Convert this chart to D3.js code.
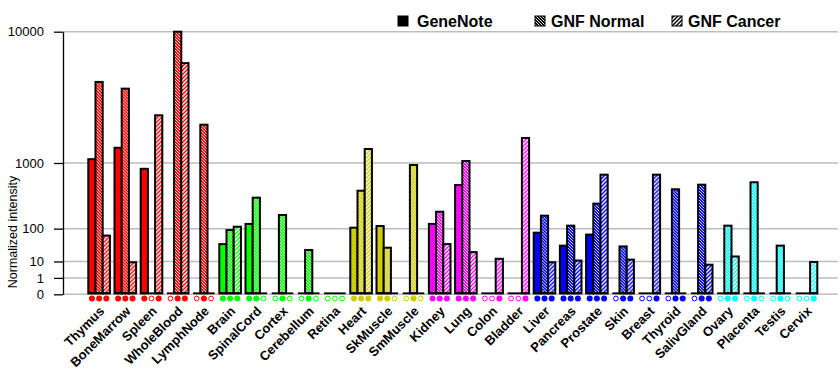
<!DOCTYPE html>
<html>
<meta charset="utf-8">
<style>
  body { margin: 0; background: #fff; }
  text { font-family: "Liberation Sans", Arial, sans-serif; }
</style>
<script src="https://d3js.org/d3.v7.min.js"></script>
<body>

<script>
var svgWidth = 840, svgHeight = 385;

// tissues along the x axis
var tissues = ["Thymus", "BoneMarrow", "Spleen", "WholeBlood", "LymphNode",
  "Brain", "SpinalCord", "Cortex", "Cerebellum", "Retina",
  "Heart", "SkMuscle", "SmMuscle",
  "Kidney", "Lung", "Colon", "Bladder",
  "Liver", "Pancreas", "Prostate", "Skin", "Breast", "Thyroid", "SalivGland",
  "Ovary", "Placenta", "Testis", "Cervix"];

// organ system of each tissue (picks the colour)
var system = [0,0,0,0,0, 1,1,1,1,1, 2,2,2, 3,3,3,3, 4,4,4,4,4,4,4, 5,5,5,5];

// null = no data (open marker)
var geneNote = [1100, 1440, 860, null, null, 41, 126, null, null, null,
  105, 114, null, 126, 544, null, null, 81, 37, 73, null, null, null, null,
  null, null, null, null];
var gnfNormal = [4940, 4440, null, 10000, 2340, 93, 361, 187, 27, null,
  455, 32, 950, 214, 1050, null, null, 182, 116, 292, 35, null, 476, 549,
  116, 590, 37, null];
var gnfCancer = [69, 9.2, 2800, 6550, null, 110, null, null, null, null,
  1400, null, null, 41, 23, 13, 1785, 9.2, 11, 734, 12, 734, 0, 7.1,
  16, null, null, 9.5];

var seriesNames = ["GeneNote", "GNF Normal", "GNF Cancer"];
var yTicks = [0, 1, 10, 100, 1000, 10000];

var palette = ["#ff0000", "#00ff00", "#cccc00", "#ff00ff", "#0000ff", "#00ffff"];

var svg = d3.select("body")
  .append("svg")
  .attr("width", svgWidth)
  .attr("height", svgHeight);

var defs = svg.append("defs");

// hatch patterns: "\" for normal, "/" for cancer
function addPatterns(name, color, bg) {
  var p1 = defs.append("pattern")
    .attr("id", "norm-" + name)
    .attr("patternUnits", "userSpaceOnUse")
    .attr("width", 3).attr("height", 3);
  p1.append("rect").attr("width", 3).attr("height", 3).attr("fill", color);
  p1.append("path")
    .attr("d", "M0,0L3,3M-1,2L1,4M2,-1L4,1")
    .attr("stroke", bg).attr("stroke-width", 0.9);

  var p2 = defs.append("pattern")
    .attr("id", "canc-" + name)
    .attr("patternUnits", "userSpaceOnUse")
    .attr("width", 4).attr("height", 4);
  p2.append("rect").attr("width", 4).attr("height", 4).attr("fill", color);
  p2.append("path")
    .attr("d", "M0,4L4,0M-1,1L1,-1M3,5L5,3")
    .attr("stroke", bg).attr("stroke-width", 1.4);
}
palette.forEach(function(c, i) { addPatterns("c" + i, c, "#fff"); });
addPatterns("k", "#000", "#fff");

var x = d3.scaleBand()
  .domain(tissues)
  .range([86, 86 + 28 * 26.2])
  .paddingInner(0.175)
  .paddingOuter(0.0875);

var y = d3.scalePow()
  .exponent(Math.log10(2))
  .domain([0, 10000])
  .range([294.3, 31.7]);

var bw = x.bandwidth() / 3;

// grid
svg.append("g").selectAll("line")
  .data(yTicks)
  .enter()
  .append("line")
  .attr("x1", 63).attr("x2", 838)
  .attr("y1", function(d) { return y(d); })
  .attr("y2", function(d) { return y(d); })
  .attr("stroke", "#bdbdbd")
  .attr("stroke-width", 1.5);

// y axis
var yAxis = svg.append("g")
  .attr("transform", "translate(63,0)")
  .call(d3.axisLeft(y).tickValues(yTicks).tickFormat(d3.format("d"))
    .tickSize(9).tickSizeOuter(0).tickPadding(10));
yAxis.selectAll("text").attr("font-size", 13).attr("font-family", "Liberation Sans, Arial, sans-serif").attr("fill", "#000");
yAxis.selectAll("line").attr("stroke", "#000").attr("stroke-width", 1.3);
yAxis.select(".domain").attr("stroke", "#000").attr("stroke-width", 1.3);

svg.append("text")
  .attr("transform", "translate(17,232) rotate(-90)")
  .attr("text-anchor", "middle")
  .attr("font-size", 12.5)
  .text("Normalized intensity");

// bars
var rows = tissues.map(function(t, i) {
  return { name: t, color: system[i], vals: [geneNote[i], gnfNormal[i], gnfCancer[i]] };
});

var group = svg.append("g").selectAll("g")
  .data(rows)
  .enter()
  .append("g")
  .attr("transform", function(d) { return "translate(" + x(d.name) + ",0)"; });

function fillFor(d, k) {
  if (k == 0) return palette[d.color];
  return "url(#" + (k == 1 ? "norm" : "canc") + "-c" + d.color + ")";
}

group.each(function(d) {
  var g = d3.select(this);
  d.vals.forEach(function(v, k) {
    if (v == null || v <= 0) return;
    g.append("rect")
      .attr("x", k * bw)
      .attr("y", y(v))
      .attr("width", bw)
      .attr("height", y(0) - 1 - y(v))
      .attr("fill", fillFor(d, k))
      .attr("stroke", "#000")
      .attr("stroke-width", 2);
  });
  // base line of the group
  g.append("line")
    .attr("x1", 0).attr("x2", x.bandwidth())
    .attr("y1", y(0) - 1).attr("y2", y(0) - 1)
    .attr("stroke", "#000").attr("stroke-width", 1.8);
  // availability markers
  d.vals.forEach(function(v, k) {
    g.append("circle")
      .attr("cx", k * bw + bw / 2)
      .attr("cy", 298.5)
      .attr("r", v == null ? 2.4 : 3)
      .attr("fill", v == null ? "#fff" : palette[d.color])
      .attr("stroke", palette[d.color])
      .attr("stroke-width", v == null ? 1 : 0);
  });
});

// x labels
svg.append("g").selectAll("text")
  .data(tissues)
  .enter()
  .append("text")
  .attr("transform", function(d) {
    return "translate(" + (x(d) + x.bandwidth() / 2 + 6) + ",312) rotate(-45)";
  })
  .attr("text-anchor", "end")
  .attr("font-size", 13)
  .attr("font-weight", "bold")
  .text(function(d) { return d; });

// legend
var legendX = [398, 535, 672];
var legend = svg.append("g").selectAll("g")
  .data(seriesNames)
  .enter()
  .append("g")
  .attr("transform", function(d, i) { return "translate(" + legendX[i] + ",0)"; });
legend.append("rect")
  .attr("x", 0).attr("y", 16)
  .attr("width", 10).attr("height", 10)
  .attr("fill", function(d, i) { return i == 0 ? "#000" : "url(#" + (i == 1 ? "norm" : "canc") + "-k)"; })
  .attr("stroke", "#000");
legend.append("text")
  .attr("x", function(d, i) { return i == 0 ? 19 : 16; })
  .attr("y", 27)
  .attr("font-size", 16)
  .attr("font-weight", "bold")
  .text(function(d) { return d; });
</script>
</body>
</html>
